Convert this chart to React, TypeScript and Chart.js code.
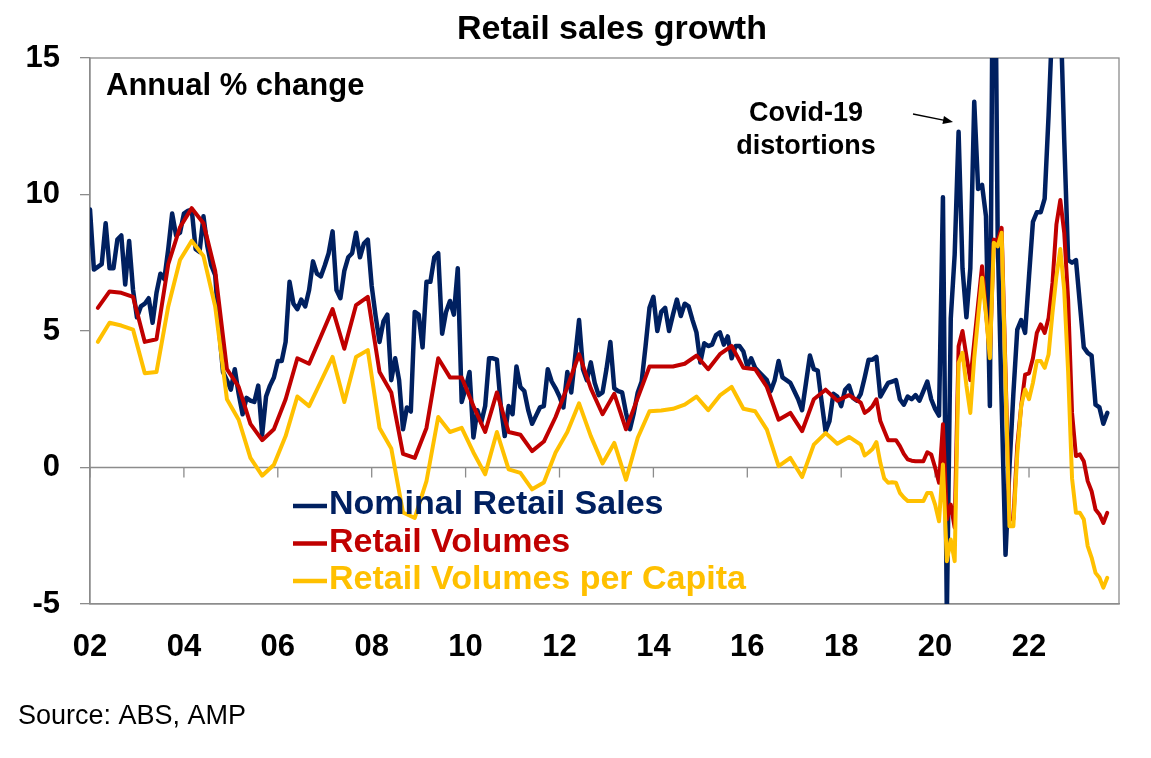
import { useEffect, useRef } from "react";
import { Chart, registerables } from "chart.js";

Chart.register(...registerables);

// ---------- data ----------
const START_YEAR = 2002; // month index 0 = Jan 2002

// Nominal retail sales, annual % change, monthly Jan 2002 .. Sep 2023
const nominalSales: number[] = [
  9.45, 7.25, 7.35, 7.45, 8.95, 7.3, 7.3, 8.35, 8.5, 6.7, 8.3, 6.5,
  5.5, 5.9, 6.0, 6.2, 5.3, 6.4, 7.1, 6.9, 8.0, 9.3, 8.5, 8.6,
  9.3, 9.4, 9.45, 8.0, 7.9, 9.2, 8.1, 7.4, 7.05, 5.05, 3.5, 3.2,
  2.85, 3.6, 2.7, 1.95, 2.55, 2.45, 2.4, 3.0, 1.2,
  2.6, 3.0, 3.3, 3.9, 3.9, 4.6, 6.8, 6.0, 5.8, 6.15,
  5.9, 6.5, 7.55, 7.1, 7.0, 7.4, 7.85, 8.65, 6.5, 6.2,
  7.2, 7.7, 7.85, 8.6, 7.7, 8.2, 8.35, 6.65, 5.55, 4.6,
  5.35, 5.6, 3.2, 4.0, 3.2, 1.4, 2.2, 2.05, 5.7, 5.6,
  4.4, 6.8, 6.8, 7.7, 7.85, 4.9, 5.7, 6.1, 5.6, 7.3,
  2.4, 2.9, 3.5, 1.1, 2.1, 1.65, 2.25, 4.0, 4.0, 3.95,
  2.25, 1.15, 2.25, 1.95, 3.7, 2.95, 2.8, 2.1, 1.6, 1.9,
  2.2, 2.25, 3.6, 3.15, 2.9, 2.6, 2.2, 3.5, 2.75, 4.05,
  5.4, 3.6, 3.2, 3.85, 3.1, 2.65, 2.75,
  3.6, 4.6, 2.9, 2.8, 2.75, 2.0, 1.4, 2.0, 2.75, 3.15,
  4.45, 5.85, 6.25, 5.0, 5.7, 5.85, 5.0, 5.6, 6.15, 5.55,
  6.0, 5.9, 5.4, 4.95, 3.85, 4.55, 4.45, 4.5, 4.85, 4.95,
  4.5, 4.8, 4.0, 4.45, 4.45, 4.25, 3.7, 4.0, 3.65, 3.5,
  3.35, 3.2, 2.8, 3.2,
  3.9, 3.3, 3.2, 3.1, 2.8, 2.5, 2.1, 3.1, 4.1, 3.6,
  3.55, 2.4, 1.33, 1.7, 2.7, 2.6, 2.25, 2.85, 3.0, 2.55,
  2.45, 2.7, 3.3, 3.95, 3.95, 4.05, 2.6, 2.85, 3.1, 3.15,
  3.2, 2.5, 2.3, 2.6, 2.5, 2.65, 2.45, 2.8, 3.15, 2.5,
  2.15, 1.9, 9.9, -5.4, 5.45, 7.8, 12.3, 7.3, 5.5, 7.3,
  13.4, 10.2, 10.35, 9.2, 2.25, 25, 8.4, 2.4, -3.2, 0.0,
  2.7, 5.05, 5.4, 4.93, 7.0, 9.0, 9.35, 9.35, 9.85, 12.9,
  16.5, 18, 17, 12, 7.6, 7.5, 7.6, 6.0, 4.4, 4.2,
  4.1, 2.3, 2.2, 1.6, 2.0,
];

// Retail volumes, annual % change: quarterly Mar 2002 .. Jun 2018
const volumesQuarterly: number[] = [
  5.85, 6.45, 6.4, 6.25, 4.6, 4.7, 7.45, 8.8, 9.5, 8.95,
  7.2, 3.6, 2.95, 1.6, 1.0, 1.4, 2.5, 4.0, 3.8, 4.8,
  5.8, 4.35, 5.95, 6.25, 3.5, 2.75, 0.5, 0.35, 1.45, 4.0,
  3.3, 3.3, 2.25, 1.3, 2.75, 1.3, 1.2, 0.6, 0.95, 1.85,
  2.95, 4.15, 2.9, 1.95, 2.7, 1.4, 2.55, 3.7, 3.7, 3.7,
  3.8, 4.1, 3.6, 4.15, 4.45, 3.65, 3.6, 2.95, 1.75, 2.0,
  1.33, 2.5, 2.85, 2.45, 2.65, 2.37,
];
// then monthly Jul 2018 .. Sep 2023
const volumesMonthly: number[] = [
  2.0, 2.1, 2.25, 2.5, 1.7, 1.35, 1.0, 1.0, 1.0, 0.78,
  0.5, 0.3, 0.25, 0.23, 0.23, 0.23, 0.56, 0.48, 0.0, -0.56,
  1.58, -1.9, -1.36, -2.2, 4.44, 5.0, 4.08, 3.2, 4.6, 6.0,
  7.37, 5.7, 4.1, 8.35, 8.3, 8.78, 3.5, -1.9, -1.9, 0.8,
  2.25, 3.4, 3.45, 4.0, 4.93, 5.24, 4.93, 5.48, 6.76, 8.9,
  9.8, 8.6, 6.15, 2.0, 0.42, 0.48, 0.23, -0.5, -0.87, -1.54,
  -1.72, -2.03, -1.66,
];

// Retail volumes per capita, annual % change: quarterly Mar 2002 .. Jun 2018
const perCapitaQuarterly: number[] = [
  4.6, 5.3, 5.2, 5.05, 3.45, 3.5, 5.9, 7.6, 8.3, 7.75,
  5.9, 2.5, 1.75, 0.35, -0.3, 0.1, 1.15, 2.6, 2.25, 3.15,
  4.05, 2.4, 4.05, 4.3, 1.45, 0.7, -1.65, -1.85, -0.5, 1.85,
  1.3, 1.45, 0.55, -0.25, 1.3, -0.07, -0.2, -0.8, -0.55, 0.55,
  1.3, 2.35, 1.15, 0.15, 0.9, -0.45, 1.09, 2.06, 2.09, 2.15,
  2.3, 2.6, 2.1, 2.64, 2.95, 2.15, 2.06, 1.39, 0.05, 0.35,
  -0.35, 0.84, 1.26, 0.87, 1.12, 0.84,
];
// then monthly Jul 2018 .. Sep 2023
const perCapitaMonthly: number[] = [
  0.44, 0.55, 0.68, 0.93, 0.17, -0.4, -0.56, -0.54, -0.56, -0.93,
  -1.1, -1.23, -1.23, -1.23, -1.23, -1.23, -0.93, -0.93, -1.36, -1.97,
  0.11, -3.43, -2.64, -3.43, 3.83, 4.2, 3.0, 2.0, 4.0, 5.5,
  6.95, 5.6, 4.0, 8.23, 8.1, 8.6, 3.2, -2.15, -2.15, 0.5,
  2.25, 2.86, 2.5, 3.1, 3.9, 3.9, 3.65, 4.14, 5.67, 7.0,
  8.0, 6.5, 3.5, -0.4, -1.66, -1.66, -1.9, -2.88, -3.3, -3.86,
  -4.04, -4.4, -4.04,
];

const xTickYears = [2002, 2004, 2006, 2008, 2010, 2012, 2014, 2016, 2018, 2020, 2022];
const yTickValues = [-5, 0, 5, 10, 15];

const SERIES_NAMES = ["Nominal Retail Sales", "Retail Volumes", "Retail Volumes per Capita"];
const SERIES_COLORS = ["#002060", "#C00000", "#FFC000"];

const TITLE = "Retail sales growth";
const SUBTITLE = "Annual % change";
const NOTE_LINES = ["Covid-19", "distortions"];
const SOURCE = "Source: ABS, AMP";

// ---------- helpers ----------
const QUARTERLY_START = 2; // Mar 2002
const MONTHLY_START = 2 + 3 * (volumesQuarterly.length - 1) + 1; // Jul 2018
const X_MAX = 263; // Dec 2023

const monthly = (vals: number[], start: number) => vals.map((v, i) => ({ x: start + i, y: v }));
const quarterly = (vals: number[], start: number) => vals.map((v, i) => ({ x: start + 3 * i, y: v }));

const FONT = "'Liberation Sans', Arial, Helvetica, sans-serif";
const AXIS_GRAY = "#8c8c8c";

const decorPlugin = {
  id: "decor",
  beforeDatasetsDraw(chart: any) {
    const { ctx, chartArea: a, scales } = chart;
    const x = scales.x;
    const y = scales.y;
    ctx.save();
    ctx.strokeStyle = AXIS_GRAY;
    ctx.lineWidth = 1.3;
    // plot border
    ctx.strokeRect(a.left, a.top, a.right - a.left, a.bottom - a.top);
    // zero axis with tick marks
    const y0 = y.getPixelForValue(0);
    ctx.beginPath();
    ctx.moveTo(a.left, y0);
    ctx.lineTo(a.right, y0);
    for (const t of x.ticks) {
      const px = x.getPixelForValue(t.value);
      ctx.moveTo(px, y0);
      ctx.lineTo(px, y0 + 10);
    }
    ctx.stroke();
    ctx.restore();
  },
  afterDraw(chart: any) {
    const { ctx } = chart;
    ctx.save();
    ctx.fillStyle = "#000";
    ctx.textBaseline = "middle";

    ctx.font = `bold 34px ${FONT}`;
    ctx.textAlign = "center";
    ctx.fillText(TITLE, 612, 30);

    ctx.font = `bold 31px ${FONT}`;
    ctx.textAlign = "left";
    ctx.fillText(SUBTITLE, 106, 86);

    ctx.font = `bold 27px ${FONT}`;
    ctx.textAlign = "center";
    ctx.fillText(NOTE_LINES[0], 806, 114);
    ctx.fillText(NOTE_LINES[1], 806, 147);

    // arrow
    const x1 = 913, y1 = 114, x2 = 953, y2 = 122;
    const ang = Math.atan2(y2 - y1, x2 - x1);
    ctx.strokeStyle = "#000";
    ctx.lineWidth = 1.3;
    ctx.beginPath();
    ctx.moveTo(x1, y1);
    ctx.lineTo(x2 - 6 * Math.cos(ang), y2 - 6 * Math.sin(ang));
    ctx.stroke();
    ctx.beginPath();
    ctx.moveTo(x2, y2);
    ctx.lineTo(x2 - 10 * Math.cos(ang) + 4 * Math.sin(ang), y2 - 10 * Math.sin(ang) - 4 * Math.cos(ang));
    ctx.lineTo(x2 - 10 * Math.cos(ang) - 4 * Math.sin(ang), y2 - 10 * Math.sin(ang) + 4 * Math.cos(ang));
    ctx.closePath();
    ctx.fill();

    // legend
    ctx.font = `bold 34px ${FONT}`;
    ctx.textAlign = "left";
    SERIES_NAMES.forEach((name, i) => {
      const cy = 505 + i * 37.5;
      ctx.strokeStyle = SERIES_COLORS[i];
      ctx.lineWidth = 4.5;
      ctx.beginPath();
      ctx.moveTo(293, cy + 1);
      ctx.lineTo(327, cy + 1);
      ctx.stroke();
      ctx.fillStyle = SERIES_COLORS[i];
      ctx.fillText(name, 329, cy);
    });

    // source
    ctx.fillStyle = "#000";
    ctx.font = `27px ${FONT}`;
    ctx.textAlign = "left";
    ctx.fillText(SOURCE, 18, 717);
    ctx.restore();
  },
};

export default function App() {
  const canvasRef = useRef<HTMLCanvasElement | null>(null);

  useEffect(() => {
    if (!canvasRef.current) return;
    const lineStyle = {
      pointRadius: 0,
      tension: 0,
      fill: false,
      borderJoinStyle: "round" as const,
      borderCapStyle: "round" as const,
      clip: 0,
    };
    const chart = new Chart(canvasRef.current, {
      type: "line",
      data: {
        datasets: [
          {
            label: SERIES_NAMES[2],
            data: [...quarterly(perCapitaQuarterly, QUARTERLY_START), ...monthly(perCapitaMonthly, MONTHLY_START)],
            borderColor: SERIES_COLORS[2],
            borderWidth: 4,
            ...lineStyle,
          },
          {
            label: SERIES_NAMES[1],
            data: [...quarterly(volumesQuarterly, QUARTERLY_START), ...monthly(volumesMonthly, MONTHLY_START)],
            borderColor: SERIES_COLORS[1],
            borderWidth: 4,
            ...lineStyle,
          },
          {
            label: SERIES_NAMES[0],
            data: monthly(nominalSales, 0),
            borderColor: SERIES_COLORS[0],
            borderWidth: 4.5,
            ...lineStyle,
          },
        ],
      },
      options: {
        responsive: false,
        animation: false,
        events: [],
        layout: { padding: { left: 0, right: 32, top: 58, bottom: 0 } },
        plugins: {
          legend: { display: false },
          title: { display: false },
          tooltip: { enabled: false },
        },
        scales: {
          x: {
            type: "linear",
            min: 0,
            max: X_MAX,
            afterBuildTicks: (s: any) => {
              s.ticks = xTickYears.map((yr) => ({ value: (yr - START_YEAR) * 12 }));
            },
            afterFit: (s: any) => {
              s.height = 154;
            },
            grid: { display: false, drawTicks: false },
            border: { display: true, color: AXIS_GRAY, width: 1.3 },
            ticks: {
              autoSkip: false,
              maxRotation: 0,
              padding: 25,
              color: "#000",
              font: { family: FONT, size: 31, weight: "bold" },
              callback: (v: any) => String((START_YEAR + Math.round(Number(v) / 12)) % 100).padStart(2, "0"),
            },
          },
          y: {
            min: -5,
            max: 15,
            afterBuildTicks: (s: any) => {
              s.ticks = yTickValues.map((v) => ({ value: v }));
            },
            afterFit: (s: any) => {
              s.width = 90;
            },
            grid: {
              drawOnChartArea: false,
              drawTicks: true,
              tickLength: 10,
              color: AXIS_GRAY,
              tickColor: AXIS_GRAY,
              lineWidth: 1.3,
            },
            border: { display: true, color: AXIS_GRAY, width: 1.3 },
            ticks: {
              padding: 20,
              color: "#000",
              font: { family: FONT, size: 31, weight: "bold" },
            },
          },
        },
      },
      plugins: [decorPlugin],
    } as any);
    return () => chart.destroy();
  }, []);

  return (
    <div style={{ position: "fixed", left: 0, top: 0, width: 1151, height: 758, background: "#fff" }}>
      <canvas ref={canvasRef} width={1151} height={758} style={{ display: "block", width: 1151, height: 758 }} />
    </div>
  );
}
